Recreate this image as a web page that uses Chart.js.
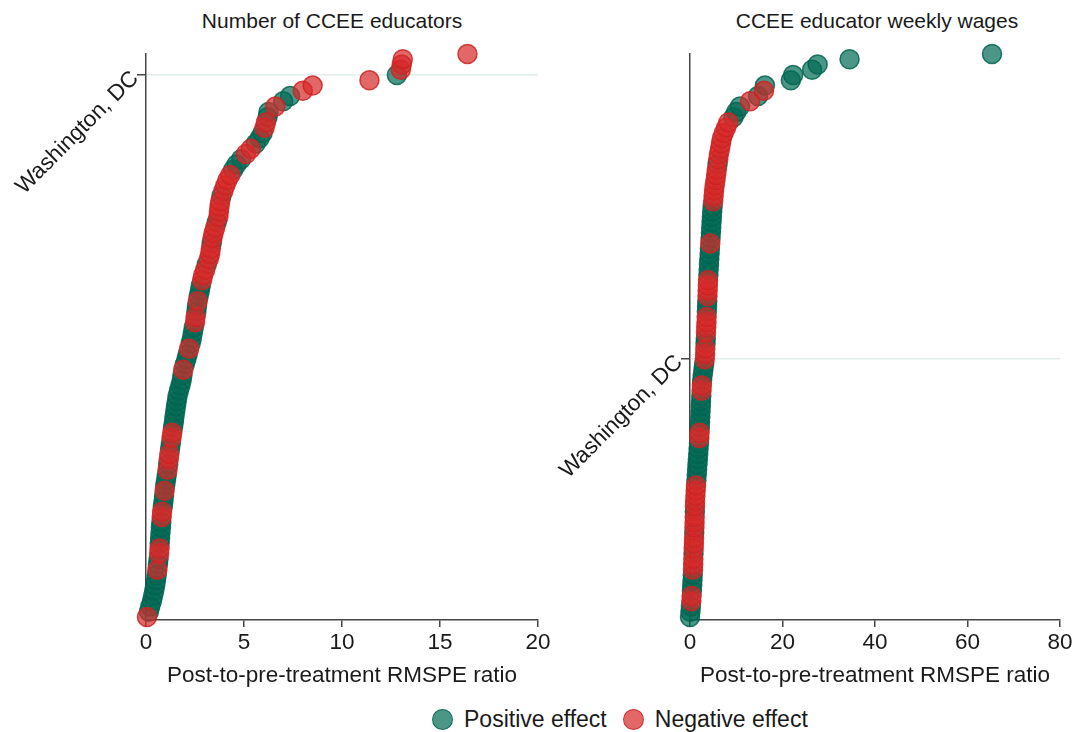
<!DOCTYPE html>
<html>
<head>
<meta charset="utf-8">
<script src="https://cdn.jsdelivr.net/npm/chart.js@4"></script>
<style>
  body { margin: 0; background: #fff; width: 1077px; height: 732px; overflow: hidden; position: relative; font-family: 'Liberation Sans', Arial, sans-serif; color: #1a1a1a; }
  .box { position: absolute; top: 0; height: 700px; }
  .title { position: absolute; top: 9px; font-size: 21px; white-space: nowrap; transform: translateX(-50%); }
  .legend { position: absolute; top: 706px; left: 432px; font-size: 23px; display: flex; align-items: center; white-space: nowrap; }
  .dot { width: 19px; height: 19px; border-radius: 50%; display: inline-block; margin-right: 11px; }
</style>
</head>
<body>
<div class="title" style="left:332px">Number of CCEE educators</div>
<div class="title" style="left:877px">CCEE educator weekly wages</div>
<div class="box" style="left:0; width:560px"><canvas id="leftChart"></canvas></div>
<div class="box" style="left:545px; width:532px"><canvas id="rightChart"></canvas></div>
<div class="legend">
  <span class="dot" style="background: rgba(0,106,84,0.7); border: 1.5px solid rgba(0,100,80,0.85)"></span>Positive effect
  <span class="dot" style="background: rgba(214,40,40,0.7); border: 1.5px solid rgba(205,35,35,0.85); margin-left: 16px"></span>Negative effect
</div>
<script>
// 왼쪽 패널: 교사 수 (순위 1 = 가장 작은 비율)
const leftRatio = [
  0.05, 0.15, 0.22, 0.30, 0.36, 0.42, 0.47, 0.51, 0.55, 0.58,
  0.61, 0.64, 0.67, 0.69, 0.70, 0.72, 0.74, 0.76, 0.78, 0.80,
  0.82, 0.86, 0.89, 0.92, 0.95, 0.98, 1.02, 1.06, 1.10, 1.13,
  1.16, 1.19, 1.23, 1.27, 1.30, 1.34, 1.38, 1.42, 1.45, 1.49,
  1.53, 1.57, 1.61, 1.68, 1.76, 1.82, 1.86, 1.90, 1.98, 2.06,
  2.13, 2.20, 2.28, 2.34, 2.39, 2.44, 2.50, 2.53, 2.57, 2.60,
  2.64, 2.69, 2.75, 2.80, 2.86, 2.92, 3.02, 3.10, 3.20, 3.27,
  3.31, 3.35, 3.39, 3.45, 3.53, 3.61, 3.69, 3.72, 3.75, 3.79,
  3.85, 3.95, 4.05, 4.15, 4.30, 4.45, 4.62, 4.85, 5.10, 5.35,
  5.60, 5.80, 5.95, 6.05, 6.12, 6.20, 6.25, 6.60, 7.00, 7.35,
  8.00, 8.50, 11.40, 12.80, 13.00, 13.05, 13.10, 16.40
];
const leftEffect = [
  -1, 1, 1, 1, 1, 1, 1, 1, 1, -1,
  1, 1, -1, -1, 1, 1, 1, 1, 1, -1,
  -1, 1, 1, 1, -1, 1, 1, 1, -1, 1,
  -1, -1, 1, 1, -1, -1, 1, 1, 1, 1,
  1, 1, 1, 1, 1, 1, 1, -1, 1, 1,
  1, -1, 1, 1, 1, 1, -1, -1, 1, 1,
  -1, 1, 1, 1, -1, -1, -1, 1, -1, -1,
  -1, 1, -1, -1, -1, 1, -1, -1, -1, -1,
  1, -1, -1, -1, -1, 1, 1, 1, -1, -1,
  1, 1, 1, -1, -1, 1, 1, -1, 1, 1,
  -1, -1, -1, 1, -1, -1, -1, -1
];
const leftTicks = [0, 5, 10, 15, 20];
const leftDcRank = 104;

// 오른쪽 패널: 주급
const rightRatio = [
  0.00, 0.10, 0.20, 0.28, 0.35, 0.42, 0.48, 0.54, 0.60, 0.65,
  0.69, 0.72, 0.76, 0.80, 0.84, 0.88, 0.92, 0.96, 0.99, 1.02,
  1.05, 1.08, 1.10, 1.16, 1.23, 1.30, 1.38, 1.46, 1.54, 1.62,
  1.70, 1.78, 1.86, 1.94, 2.02, 2.08, 2.13, 2.18, 2.23, 2.28,
  2.33, 2.38, 2.44, 2.50, 2.56, 2.62, 2.75, 2.90, 3.05, 3.20,
  3.26, 3.31, 3.36, 3.41, 3.46, 3.51, 3.56, 3.60, 3.64, 3.69,
  3.74, 3.78, 3.82, 3.86, 3.90, 3.97, 4.04, 4.10, 4.17, 4.24,
  4.31, 4.38, 4.45, 4.52, 4.59, 4.66, 4.73, 4.80, 4.90, 5.00,
  5.10, 5.20, 5.35, 5.50, 5.65, 5.80, 5.95, 6.10, 6.25, 6.50,
  6.70, 6.90, 7.30, 7.80, 8.30, 9.40, 10.00, 10.80, 13.00, 14.70,
  16.00, 16.20, 21.80, 22.30, 26.40, 27.60, 34.50, 65.30
];
const rightEffect = [
  1, 1, 1, -1, -1, 1, 1, 1, 1, -1,
  -1, -1, 1, -1, -1, -1, 1, -1, -1, -1,
  1, -1, -1, -1, -1, -1, 1, 1, 1, 1,
  1, 1, 1, 1, -1, -1, 1, 1, 1, 1,
  1, 1, 1, -1, -1, 1, 1, 1, 1, -1,
  -1, -1, 1, 1, -1, -1, -1, -1, 1, 1,
  1, -1, -1, -1, -1, 1, 1, 1, 1, 1,
  1, -1, 1, 1, 1, 1, 1, 1, 1, -1,
  -1, -1, -1, -1, -1, -1, 1, -1, -1, -1,
  -1, -1, -1, -1, -1, 1, 1, 1, -1, 1,
  -1, 1, 1, 1, 1, 1, 1, 1
];
const rightTicks = [0, 20, 40, 60, 80];
const rightDcRank = 50;

const dcLabel = 'Washington, DC';
const fontFamily = "'Liberation Sans', Arial, sans-serif";

// 순위 데이터셋 만들기 (빨간 점이 위에 그려지도록 order 지정)
function buildDatasets(ratio, effect) {
    const pos = [];
    const neg = [];
    ratio.forEach((v, i) => {
        const pt = { x: v, y: i + 1 };
        if (effect[i] > 0) pos.push(pt); else neg.push(pt);
    });
    return [
        {
            label: 'Positive effect',
            data: pos,
            order: 2,
            backgroundColor: 'rgba(0,106,84,0.7)',
            borderColor: 'rgba(0,100,80,0.85)',
            borderWidth: 1.5,
            pointRadius: 9.5,
            clip: false
        },
        {
            label: 'Negative effect',
            data: neg,
            order: 1,
            backgroundColor: 'rgba(214,40,40,0.7)',
            borderColor: 'rgba(205,35,35,0.85)',
            borderWidth: 1.5,
            pointRadius: 9.5,
            clip: false
        }
    ];
}

function makePanel(id, ratio, effect, xTicks, dcRank, axisWidth, padRight) {
    const ctx = document.getElementById(id).getContext('2d');
    return new Chart(ctx, {
        type: 'scatter',
        data: { datasets: buildDatasets(ratio, effect) },
        options: {
            responsive: true,
            maintainAspectRatio: false,
            animation: false,
            layout: { padding: { top: 54, right: padRight, left: 0, bottom: 0 } },
            plugins: { legend: { display: false }, tooltip: { enabled: false } },
            scales: {
                x: {
                    type: 'linear',
                    min: xTicks[0],
                    max: xTicks[xTicks.length - 1],
                    afterBuildTicks: scale => { scale.ticks = xTicks.map(v => ({ value: v })); },
                    afterFit: scale => { scale.height = 80; },
                    ticks: { font: { family: fontFamily, size: 22.5 }, color: '#1a1a1a', padding: 2 },
                    grid: { drawOnChartArea: false, drawTicks: true, tickLength: 7, tickColor: '#444', lineWidth: 1.5 },
                    border: { display: true, color: '#444', width: 1.5 },
                    title: {
                        display: true,
                        text: 'Post-to-pre-treatment RMSPE ratio',
                        font: { family: fontFamily, size: 22.5 },
                        color: '#1a1a1a',
                        padding: { top: 0, bottom: 11 }
                    }
                },
                y: {
                    type: 'linear',
                    min: 0.43,
                    max: ratio.length,
                    afterBuildTicks: scale => { scale.ticks = [{ value: dcRank }]; },
                    afterFit: scale => { scale.width = axisWidth; },
                    ticks: {
                        callback: () => dcLabel,
                        minRotation: 45,
                        maxRotation: 45,
                        font: { family: fontFamily, size: 22.5 },
                        color: '#1a1a1a',
                        padding: 2
                    },
                    grid: { color: '#e2eeec', lineWidth: 1.5, tickLength: 9, tickColor: '#444' },
                    border: { display: true, color: '#444', width: 1.5 }
                }
            }
        }
    });
}

let leftChart = makePanel('leftChart', leftRatio, leftEffect, leftTicks, leftDcRank, 146, 22);
let rightChart = makePanel('rightChart', rightRatio, rightEffect, rightTicks, rightDcRank, 145, 17);
</script>
</body>
</html>
